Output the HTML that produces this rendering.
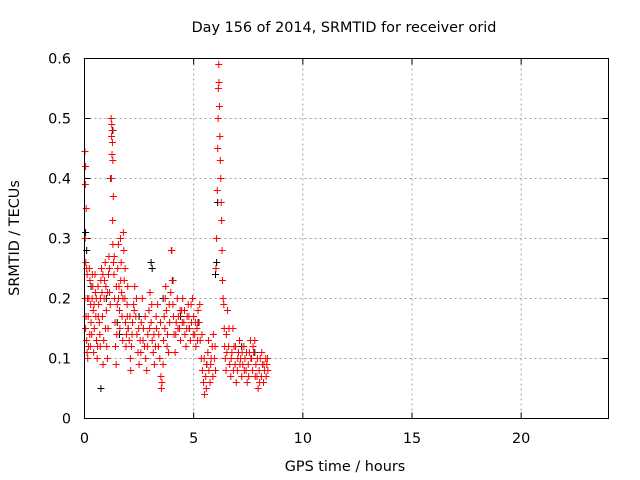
<!DOCTYPE html>
<html><head><meta charset="utf-8"><style>
body{margin:0;background:#fff}
svg{display:block;font-family:"DejaVu Sans","Liberation Sans",sans-serif}
</style></head><body>
<svg id="chart" width="640" height="480" viewBox="0 0 640 480" xmlns="http://www.w3.org/2000/svg">
<rect width="640" height="480" fill="#fff"/>
<text x="344" y="32" font-size="14.4" text-anchor="middle">Day 156 of 2014, SRMTID for receiver orid</text>
<text x="345" y="471" font-size="14.4" text-anchor="middle">GPS time / hours</text>
<text x="19" y="238" font-size="14.4" text-anchor="middle" transform="rotate(-90 19 238)">SRMTID / TECUs</text>
<g id="grid"></g>
<g id="ticks"></g>
<g id="black"></g>
<g id="red"></g>
<rect x="84.5" y="58.5" width="524" height="360" fill="none" stroke="#000" stroke-width="1"/>
</svg>
<script>
const xTicks=[0,5,10,15,20];
const yTicks=[0,0.1,0.2,0.3,0.4,0.5,0.6];
const yTickLabels=["0","0.1","0.2","0.3","0.4","0.5","0.6"];
const blackPts=[[0.05,0.31],[0.1,0.28],[0.3,0.22],[1.2,0.40],[1.3,0.48],[0.75,0.05],[2.5,0.17],[3.05,0.26],[3.1,0.25],[3.6,0.2],[4.05,0.23],[4.4,0.17],[4.8,0.15],[5.2,0.16],[5.6,0.09],[6.0,0.24],[6.05,0.26],[6.1,0.36],[7.2,0.12],[7.8,0.11],[1.6,0.14],[2.0,0.15],[1.0,0.2],[1.5,0.16]];
const redPts=[[0.02,0.445],[0.05,0.42],[0.04,0.39],[0.08,0.35],[0.03,0.30],[0.06,0.26],[0.1,0.25],[0.12,0.24],[0.02,0.2],[0.07,0.17],[0.05,0.15],[0.1,0.13],[0.12,0.11],[0.15,0.1],[0.18,0.12],[0.2,0.2],[0.22,0.25],[0.25,0.23],[0.28,0.19],[0.3,0.16],[0.33,0.14],[0.35,0.2],[0.38,0.22],[0.4,0.18],[0.42,0.11],[0.45,0.15],[0.48,0.24],[0.5,0.21],[0.52,0.17],[0.55,0.13],[0.58,0.1],[0.6,0.12],[0.62,0.22],[0.65,0.19],[0.68,0.16],[0.7,0.14],[0.72,0.12],[0.75,0.23],[0.78,0.25],[0.8,0.21],[0.82,0.17],[0.85,0.09],[0.88,0.13],[0.9,0.2],[0.92,0.23],[0.95,0.26],[0.98,0.22],[1.0,0.18],[1.02,0.12],[1.05,0.1],[1.08,0.15],[1.1,0.24],[1.12,0.27],[1.15,0.21],[1.18,0.19],
[1.22,0.50],[1.25,0.49],[1.27,0.48],[1.24,0.47],[1.28,0.46],[1.26,0.44],[1.3,0.43],[1.23,0.40],[1.32,0.37],[1.29,0.33],[1.3,0.29],[1.33,0.26],[1.35,0.24],[1.38,0.2],[1.4,0.16],[1.42,0.12],[1.45,0.09],[1.48,0.14],[1.5,0.19],[1.52,0.25],[1.55,0.29],[1.58,0.22],[1.6,0.18],[1.62,0.15],[1.65,0.3],[1.68,0.26],[1.7,0.21],[1.72,0.17],[1.75,0.13],[1.78,0.31],[1.8,0.28],[1.82,0.23],[1.85,0.2],[1.88,0.16],[1.9,0.12],[1.92,0.14],[1.95,0.19],[1.98,0.22],[2.0,0.15],
[2.05,0.13],[2.1,0.1],[2.12,0.08],[2.15,0.12],[2.2,0.16],[2.25,0.19],[2.3,0.22],[2.35,0.17],[2.4,0.14],[2.45,0.11],[2.5,0.09],[2.55,0.13],[2.6,0.16],[2.65,0.2],[2.7,0.15],[2.75,0.12],[2.8,0.1],[2.85,0.08],[2.9,0.14],[2.95,0.18],[3.0,0.21],[3.05,0.16],[3.1,0.13],[3.15,0.11],[3.2,0.09],[3.25,0.12],[3.3,0.15],[3.35,0.19],[3.4,0.14],[3.45,0.1],[3.5,0.07],[3.52,0.05],[3.55,0.06],[3.6,0.09],[3.62,0.13],[3.65,0.17],[3.7,0.2],[3.72,0.22],[3.75,0.18],[3.8,0.14],[3.85,0.11],[3.9,0.16],[3.95,0.21],[3.98,0.28],[4.0,0.28],[4.02,0.23],[4.05,0.19],[4.1,0.14],[4.15,0.11],[4.2,0.16],[4.25,0.2],[4.3,0.17],[4.35,0.15],[4.4,0.13],[4.45,0.18],[4.5,0.2],[4.55,0.16],[4.6,0.14],[4.65,0.12],[4.7,0.17],[4.75,0.19],[4.8,0.15],[4.85,0.13],[4.9,0.16],[4.95,0.2],[5.0,0.17],[5.05,0.14],[5.1,0.12],[5.15,0.15],[5.2,0.18],[5.25,0.16],[5.3,0.13],[5.35,0.1],[5.4,0.08],[5.45,0.06],[5.5,0.04],[5.55,0.07],[5.6,0.09],[5.65,0.11],[5.7,0.08],[5.75,0.06],[5.8,0.1],[5.85,0.12],[5.9,0.14],[5.95,0.1],[6.0,0.08],
[6.02,0.25],[6.05,0.30],[6.08,0.38],[6.1,0.45],[6.12,0.5],[6.13,0.55],[6.15,0.59],[6.16,0.56],[6.18,0.52],[6.2,0.47],[6.22,0.43],[6.24,0.40],[6.26,0.36],[6.28,0.33],[6.3,0.28],[6.32,0.23],[6.35,0.2],[6.38,0.19],[6.4,0.15],[6.42,0.12],[6.45,0.1],[6.48,0.08],[6.5,0.14],[6.55,0.18],[6.6,0.12],[6.65,0.09],[6.7,0.07],[6.75,0.11],[6.8,0.15],[6.85,0.12],[6.9,0.09],[6.95,0.06],[7.0,0.08],[7.05,0.11],[7.1,0.13],[7.15,0.1],[7.2,0.07],[7.25,0.09],[7.3,0.12],[7.35,0.1],[7.4,0.08],[7.45,0.06],[7.5,0.09],[7.55,0.11],[7.6,0.13],[7.65,0.1],[7.7,0.08],[7.75,0.11],[7.8,0.13],[7.85,0.09],[7.9,0.07],[7.95,0.05],[8.0,0.08],[8.05,0.1],[8.1,0.07],[8.15,0.09],[8.2,0.06],[8.25,0.08],[8.3,0.1],[8.35,0.09],[8.4,0.08]];
const redPtsExtra=[[0.14,0.2],[0.17,0.17],[0.24,0.14],[0.27,0.12],[0.36,0.24],[0.44,0.19],[0.54,0.2],[0.63,0.17],[0.73,0.2],[0.84,0.24],[0.96,0.15],[1.06,0.21],[1.14,0.25],[1.36,0.27],[1.46,0.22],[1.56,0.2],[1.66,0.23],[1.76,0.2],[1.86,0.25],[1.96,0.17],[2.08,0.17],[2.18,0.14],[2.28,0.18],[2.38,0.2],[2.48,0.15],[2.58,0.11],[2.68,0.13],[2.78,0.17],[2.88,0.12],[2.98,0.15],[3.08,0.19],[3.18,0.14],[3.28,0.17],[3.38,0.12],[3.48,0.16],[3.68,0.15],[3.78,0.12],[3.88,0.19],[4.08,0.17],[4.18,0.14],[4.28,0.15],[4.38,0.18],[4.48,0.16],[4.58,0.18],[4.68,0.15],[4.78,0.17],[4.88,0.19],[4.98,0.14],[5.08,0.16],[5.18,0.13],[5.28,0.19],[5.38,0.14],[5.48,0.1],[5.58,0.05],[5.68,0.13],[5.78,0.09],[5.88,0.07],[5.98,0.12],[6.52,0.11],[6.62,0.15],[6.72,0.1],[6.82,0.08],[6.92,0.12],[7.02,0.1],[7.12,0.09],[7.22,0.11],[7.32,0.08],[7.42,0.11],[7.52,0.07],[7.62,0.1],[7.72,0.12],[7.82,0.07],[7.92,0.1],[8.02,0.06],[8.12,0.11],[8.22,0.09],[8.32,0.07],[8.38,0.1]];

const X0=84.5,X1=608.5,Y0=418.5,Y1=58.5,XMAX=24,YMAX=0.6;
const sx=v=>X0+(X1-X0)*v/XMAX;
const sy=v=>Y0-(Y0-Y1)*v/YMAX;
const NS="http://www.w3.org/2000/svg";
function mk(tag,attrs,parent){const e=document.createElementNS(NS,tag);for(const k in attrs)e.setAttribute(k,attrs[k]);parent.appendChild(e);return e;}
const grid=document.getElementById('grid'),ticks=document.getElementById('ticks');
xTicks.forEach(t=>{
  const x=sx(t);
  if(t>0){const g=mk('line',{x1:x,x2:x,y1:Y1,y2:Y0,stroke:'#a0a0a0','stroke-dasharray':'2,3'},grid);
  
  }
  mk('line',{x1:x,x2:x,y1:Y0,y2:Y0-6,stroke:'#000'},ticks);
  mk('line',{x1:x,x2:x,y1:Y1,y2:Y1+6,stroke:'#000'},ticks);
  const l=mk('text',{x:x,y:443,'font-size':14.4,'text-anchor':'middle'},ticks);
  
  
  l.textContent=t;
});
yTicks.forEach((t,i)=>{
  const y=sy(t);
  if(t>0&&t<YMAX){const g=mk('line',{x1:X0,x2:X1,y1:y,y2:y,stroke:'#a0a0a0','stroke-dasharray':'2,3'},grid);
  
  }
  mk('line',{x1:X0,x2:X0+6,y1:y,y2:y,stroke:'#000'},ticks);
  mk('line',{x1:X1,x2:X1-6,y1:y,y2:y,stroke:'#000'},ticks);
  const l=mk('text',{x:71,y:y+5,'font-size':14.4,'text-anchor':'end'},ticks);
  
  
  l.textContent=yTickLabels[i];
});
function plus(p,color,parent,name){
  const x=sx(p[0]),y=sy(p[1]);
  const e=mk('path',{d:`M${x-3.5},${y}H${x+3.5}M${x},${y-3.5}V${y+3.5}`,stroke:color,'stroke-width':1,fill:'none'},parent);
  
  
}
blackPts.forEach(p=>plus(p,'#000',document.getElementById('black'),'black-point'));
redPts.forEach(p=>plus(p,'#ff0000',document.getElementById('red'),'red-point'));
redPtsExtra.forEach(p=>plus(p,'#ff0000',document.getElementById('red'),'red-point'));
</script>
</body></html>
